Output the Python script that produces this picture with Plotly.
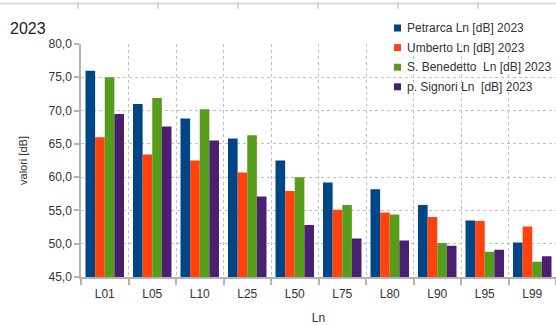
import plotly.graph_objects as go

categories = ["L01", "L05", "L10", "L25", "L50", "L75", "L80", "L90", "L95", "L99"]
petrarca = [76.0, 71.0, 68.8, 65.8, 62.5, 59.2, 58.2, 55.8, 53.5, 50.2]
umberto = [66.0, 63.4, 62.5, 60.7, 57.9, 55.1, 54.7, 54.0, 53.4, 52.6]
benedetto = [75.0, 71.9, 70.2, 66.3, 60.0, 55.8, 54.4, 50.1, 48.8, 47.3]
signori = [69.5, 67.6, 65.5, 57.1, 52.8, 50.8, 50.5, 49.7, 49.1, 48.1]

series_names = ["Petrarca Ln [dB] 2023", "Umberto Ln [dB] 2023",
                "S. Benedetto  Ln [dB] 2023", "p. Signori Ln  [dB] 2023"]
series_values = [petrarca, umberto, benedetto, signori]
colors = ["#004586", "#ff420e", "#579d1c", "#4b1f6f"]

FONT = "Liberation Sans, Arial, sans-serif"
TXT = "#333333"

# plot area in pixels
L, T, W, H = 81, 44, 475, 233

fig = go.Figure()
for name, vals, col in zip(series_names, series_values, colors):
    fig.add_trace(go.Bar(x=categories, y=vals, name=name,
                         marker=dict(color=col, line=dict(width=0))))

grid = "#c0c0c0"
axis = "#b3b3b3"

fig.update_layout(
    width=556, height=325,
    margin=dict(l=L, r=556 - L - W, t=T, b=325 - T - H),
    paper_bgcolor="white", plot_bgcolor="white",
    barmode="group", bargap=0.19, bargroupgap=0,
    separators=",.",
    font=dict(family=FONT, size=12, color=TXT),
    title=dict(text="2023", x=10/556, xanchor="left", y=1-28/325, yanchor="middle",
               font=dict(family=FONT, size=16, color="#222222")),
    showlegend=False,
)

fig.update_xaxes(
    type="category", tickson="boundaries", automargin=False,
    showgrid=True, gridcolor=grid, griddash="dot", gridwidth=1,
    showline=True, linecolor=axis, linewidth=1.5,
    ticks="outside", ticklen=6, tickcolor=axis, tickwidth=1.5,
    ticklabelstandoff=5,
    tickfont=dict(family=FONT, size=12, color=TXT),
    title=dict(text="Ln", font=dict(family=FONT, size=12, color=TXT), standoff=18),
)
fig.update_yaxes(
    range=[45, 80], tickvals=[45, 50, 55, 60, 65, 70, 75, 80], tickformat=".1f",
    automargin=False,
    showgrid=True, gridcolor=grid, griddash="dot", gridwidth=1,
    showline=True, linecolor=axis, linewidth=1.5,
    ticks="outside", ticklen=5, tickcolor=axis, tickwidth=1.5,
    tickfont=dict(family=FONT, size=12, color=TXT),
    title=dict(text="valori [dB]", font=dict(family=FONT, size=11, color=TXT), standoff=19),
    zeroline=False,
)

# manual legend (small square markers like the original)
def px_x(px):
    return (px - L) / W

def px_y(py):
    return 1 - (py - T) / H

for i, (name, col) in enumerate(zip(series_names, colors)):
    cy = 28 + i * 19.6
    fig.add_shape(type="rect", xref="paper", yref="paper",
                  x0=px_x(394), x1=px_x(401), y0=px_y(cy + 3.5), y1=px_y(cy - 3.5),
                  fillcolor=col, line=dict(width=0))
    fig.add_annotation(xref="paper", yref="paper", x=px_x(405), y=px_y(cy),
                       xanchor="left", yanchor="middle", showarrow=False,
                       text=name, font=dict(family=FONT, size=12, color=TXT))

# faint spreadsheet frame at top
fig.add_shape(type="line", xref="paper", yref="paper", x0=px_x(0), x1=1,
              y0=px_y(3.5), y1=px_y(3.5), line=dict(color="#dddddd", width=2))
for px in [78, 158, 238, 318, 398, 478]:
    fig.add_shape(type="line", xref="paper", yref="paper",
                  x0=px_x(px), x1=px_x(px), y0=px_y(2), y1=px_y(9),
                  line=dict(color="#cccccc", width=1.5))

fig.write_html("out.html")
